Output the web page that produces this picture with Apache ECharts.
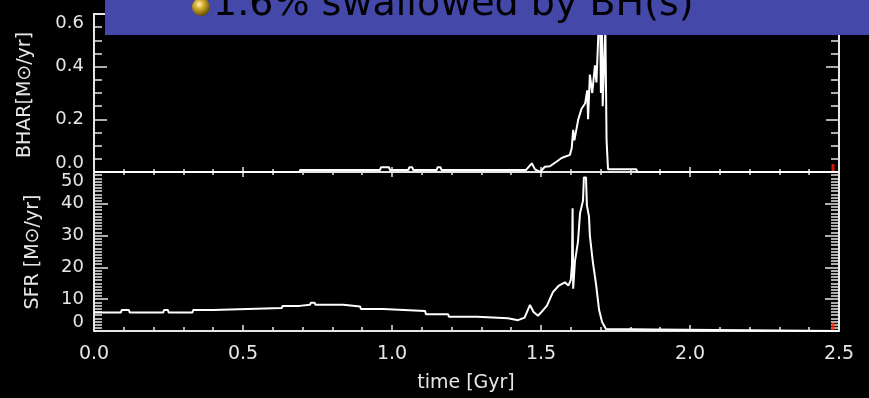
<!DOCTYPE html>
<html><head><meta charset="utf-8">
<script src="https://cdn.jsdelivr.net/npm/echarts@6/dist/echarts.min.js"></script>
<style>html,body{margin:0;padding:0;background:#000;overflow:hidden}#c{width:869px;height:398px;}</style>
</head><body><div id="c"></div>
<script>
// ---- data ----
const timeTicks = ['0.0','0.5','1.0','1.5','2.0','2.5'];
const bharTicks = ['0.0','0.2','0.4','0.6'];
const sfrTicks = ['0','10','20','30','40','50'];

const bharTime = [0, 0.69, 0.692, 0.96, 0.963, 0.99, 0.993, 1.055, 1.058, 1.068, 1.071, 1.15, 1.153, 1.163, 1.166,
  1.45, 1.469, 1.48, 1.497, 1.513, 1.53, 1.553, 1.569, 1.597, 1.603, 1.608, 1.612, 1.625, 1.636, 1.648, 1.655,
  1.658, 1.664, 1.672, 1.681, 1.686, 1.692, 1.698, 1.701, 1.704, 1.707, 1.716, 1.72, 1.725, 1.82, 1.823, 2.5];
const bharValue = [0, 0, 0.008, 0.008, 0.018, 0.018, 0.008, 0.008, 0.018, 0.018, 0.008, 0.008, 0.018, 0.018, 0.008,
  0.008, 0.033, 0.01, 0.0, 0.02, 0.022, 0.04, 0.053, 0.065, 0.09, 0.16, 0.12, 0.2, 0.24, 0.26, 0.31,
  0.2, 0.37, 0.3, 0.405, 0.34, 0.51, 0.68, 0.3, 0.65, 0.25, 0.55, 0.12, 0.01, 0.01, 0, 0];

const sfrTime = [0.000, 0.090, 0.093, 0.117, 0.120, 0.232, 0.235, 0.248, 0.251, 0.330, 0.333, 0.400, 0.403, 0.630,
  0.633, 0.690, 0.693, 0.725, 0.728, 0.740, 0.743, 0.836, 0.839, 0.893, 0.896, 0.970, 0.973, 1.111, 1.114, 1.188,
  1.191, 1.285, 1.288, 1.389, 1.392, 1.423, 1.426, 1.445, 1.463, 1.475, 1.490, 1.500, 1.520, 1.540, 1.560, 1.580,
  1.592, 1.600, 1.604, 1.606, 1.608, 1.614, 1.624, 1.631, 1.641, 1.644, 1.651, 1.654, 1.661, 1.664, 1.674, 1.685,
  1.695, 1.705, 1.718, 1.880, 1.885, 2.5];
const sfrValue = [5.8, 5.8, 6.6, 6.6, 5.8, 5.8, 6.6, 6.6, 5.8, 5.8, 6.6, 6.6, 7.2, 7.2,
  7.9, 7.9, 8.25, 8.25, 8.9, 8.9, 8.25, 8.25, 7.7, 7.7, 6.9, 6.9, 6.3, 6.3, 5.3, 5.3,
  4.5, 4.5, 4.0, 4.0, 3.4, 3.4, 4.0, 4.2, 8.2, 6.0, 4.8, 5.8, 8.0, 12.2, 14.3, 15.3,
  14.3, 16, 21, 38.6, 13.3, 22, 28, 37, 41, 48.3, 48.3, 39.6, 36, 30, 21.7, 14.5,
  6.6, 2.8, 0.6, 0.5, 0, 0];

const markerTime = [2.48];

const bannerText = '1.6% swallowed by BH(s)';
const bharTitle = 'BHAR[M\u2299/yr]';
const sfrTitle = 'SFR [M\u2299/yr]';
const timeTitle = 'time [Gyr]';

// ---- chart ----
const AX = '#e6e6e6';
const FONT = 'DejaVu Sans';
const chart = echarts.init(document.getElementById('c'), null, {renderer: 'canvas'});

function xAx(grid, pos, labels, tl, ml) {
  return {
    type: 'value', gridIndex: grid, position: pos, min: 0, max: 2.5, interval: 0.5,
    axisLine: {show: true, onZero: false, lineStyle: {color: AX, width: 2}},
    axisTick: {show: true, inside: true, length: tl, lineStyle: {color: AX, width: 1.5}},
    minorTick: {show: true, splitNumber: 5, length: ml, lineStyle: {color: AX, width: 1.5}},
    splitLine: {show: false},
    axisLabel: {show: labels, margin: 14, color: AX, fontFamily: FONT, fontSize: 19,
      formatter: v => timeTicks[Math.round(v / 0.5)]}
  };
}
function yAx(grid, pos, labels, max, interval, split, ticks, tl, ml) {
  return {
    type: 'value', gridIndex: grid, position: pos, min: 0, max: max, interval: interval,
    axisLine: {show: true, onZero: false, lineStyle: {color: AX, width: 2}},
    axisTick: {show: true, inside: true, length: tl, lineStyle: {color: AX, width: 1.5}},
    minorTick: {show: true, splitNumber: split, length: ml, lineStyle: {color: AX, width: 1.5}},
    splitLine: {show: false},
    axisLabel: {show: labels, margin: 10, color: AX, fontFamily: FONT, fontSize: 18,
      verticalAlignMinLabel: 'bottom', verticalAlignMaxLabel: 'top',
      formatter: v => ticks[Math.round(v / interval)]}
  };
}

const option = {
  backgroundColor: '#000',
  animation: false,
  grid: [
    {left: 94, top: 14, width: 745, height: 158},
    {left: 94, top: 172, width: 745, height: 159}
  ],
  xAxis: [
    xAx(0, 'bottom', false, 5, 3),
    xAx(0, 'top', false, 5, 3),
    xAx(1, 'bottom', true, 6, 4),
    xAx(1, 'top', false, 5, 3)
  ],
  yAxis: [
    yAx(0, 'left', true, 0.6, 0.2, 4, bharTicks, 13, 8),
    yAx(0, 'right', false, 0.6, 0.2, 4, bharTicks, 13, 8),
    yAx(1, 'left', true, 50, 10, 10, sfrTicks, 14, 8),
    yAx(1, 'right', false, 50, 10, 10, sfrTicks, 14, 8)
  ],
  series: [
    {type: 'line', xAxisIndex: 0, yAxisIndex: 0, showSymbol: false, clip: true,
      data: bharTime.map((t, i) => [t, bharValue[i]]),
      lineStyle: {color: '#fff', width: 2}},
    {type: 'line', xAxisIndex: 2, yAxisIndex: 2, showSymbol: false, clip: true,
      data: sfrTime.map((t, i) => [t, sfrValue[i]]),
      lineStyle: {color: '#fff', width: 2}},
    {type: 'scatter', xAxisIndex: 0, yAxisIndex: 0, symbol: 'rect', symbolSize: [3, 8], symbolOffset: [0, -4],
      data: markerTime.map(t => [t, 0]), itemStyle: {color: '#ff2200'}},
    {type: 'scatter', xAxisIndex: 2, yAxisIndex: 2, symbol: 'rect', symbolSize: [3, 8], symbolOffset: [0, -4],
      data: markerTime.map(t => [t, 0]), itemStyle: {color: '#ff2200'}}
  ],
  graphic: [
    {type: 'rect', z: 100, shape: {x: 105, y: 0, width: 764, height: 35}, style: {fill: '#4449a9'}},
    {type: 'circle', z: 101, shape: {cx: 201, cy: 7, r: 9},
      style: {fill: new echarts.graphic.RadialGradient(0.4, 0.35, 0.7, [
        {offset: 0, color: '#fff6c0'}, {offset: 0.35, color: '#d8b030'}, {offset: 1, color: '#5a4200'}])}},
    {type: 'text', z: 101, x: 213, y: 5,
      style: {text: bannerText, font: '38px "DejaVu Sans"', fill: '#000', verticalAlign: 'middle', align: 'left'}},
    {type: 'text', z: 50, x: 25, y: 95, rotation: Math.PI / 2,
      style: {text: bharTitle, font: '19px "DejaVu Sans"', fill: AX, align: 'center', verticalAlign: 'middle'}},
    {type: 'text', z: 50, x: 33, y: 252, rotation: Math.PI / 2,
      style: {text: sfrTitle, font: '19px "DejaVu Sans"', fill: AX, align: 'center', verticalAlign: 'middle'}},
    {type: 'text', z: 50, x: 466, y: 383,
      style: {text: timeTitle, font: '19px "DejaVu Sans"', fill: AX, align: 'center', verticalAlign: 'middle'}}
  ]
};
chart.setOption(option);
</script>
</body></html>
